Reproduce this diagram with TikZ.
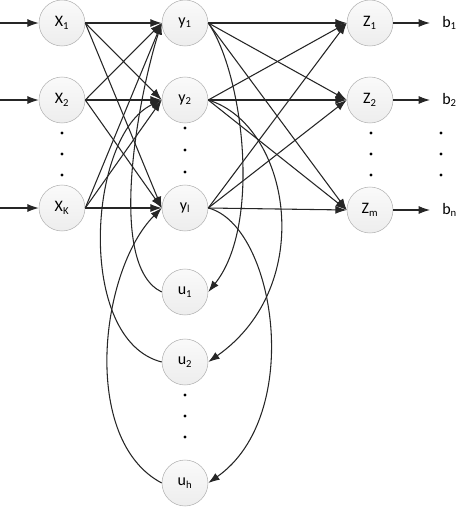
\documentclass[tikz,border=0pt]{standalone}
\usepackage{fontspec}
\setmainfont{Carlito}
\usetikzlibrary{arrows.meta}

\begin{document}
\begin{tikzpicture}[x=0.75pt, y=-0.75pt,
	neuron/.style={circle, draw=gray!60, top color=gray!4, bottom color=gray!14, minimum size=34.5pt, inner sep=0pt, font=\fontsize{12}{14}\selectfont},
	outlabel/.style={anchor=west, inner xsep=9pt, inner ysep=0pt, font=\fontsize{12}{14}\selectfont},
	conn/.style={draw=black!85, line width=0.8pt, -{Latex[length=8.5pt, width=6pt]}}]

	\useasboundingbox (0,0) rectangle (455,507);

	% input layer
	\node[neuron] (x1) at (62,23) {X\textsubscript{1}};
	\node[neuron] (x2) at (62,100) {X\textsubscript{2}};
	\node[neuron] (xk) at (62,208) {X\textsubscript{K}};

	% hidden layer
	\node[neuron] (y1) at (185,23) {y\textsubscript{1}};
	\node[neuron] (y2) at (185,100) {y\textsubscript{2}};
	\node[neuron] (yl) at (185,208) {y\textsubscript{l}};

	% output layer
	\node[neuron] (z1) at (370,23) {Z\textsubscript{1}};
	\node[neuron] (z2) at (370,100) {Z\textsubscript{2}};
	\node[neuron] (zm) at (370,210) {Z\textsubscript{m}};

	% context units
	\node[neuron] (u1) at (185,292) {u\textsubscript{1}};
	\node[neuron] (u2) at (185,362) {u\textsubscript{2}};
	\node[neuron] (uh) at (185,483) {u\textsubscript{h}};

	\node[outlabel] (b1) at (430,23) {b\textsubscript{1}};
	\node[outlabel] (b2) at (430,100) {b\textsubscript{2}};
	\node[outlabel] (bn) at (430,210) {b\textsubscript{n}};

	\coordinate (in1) at (0,23);
	\coordinate (in2) at (0,100);
	\coordinate (ink) at (0,208);

	% dots
	\foreach \cx in {62,371,441}
		\foreach \cy in {133,154,175}
			\fill (\cx,\cy) circle (1.2pt);
	\foreach \cy in {128,150,172,395,416,437}
		\fill (185,\cy) circle (1.2pt);

	\draw[conn] (in1) -- (x1.west);
	\draw[conn] (in2) -- (x2.west);
	\draw[conn] (ink) -- (xk.west);

	\foreach \a in {x1,x2,xk}
		\foreach \b in {y1,y2,yl}
			\draw[conn] (\a.east) -- (\b.west);

	\foreach \a in {y1,y2,yl}
		\foreach \b in {z1,z2,zm}
			\draw[conn] (\a.east) -- (\b.west);

	\draw[conn] (z1.east) -- (b1.west);
	\draw[conn] (z2.east) -- (b2.west);
	\draw[conn] (zm.east) -- (bn.west);

	% feedback to context units
	\draw[conn] (y1.east) .. controls (243,73) and (262,225) .. (u1.east);
	\draw[conn] (y2.east) .. controls (290,125) and (318,285) .. (u2.east);
	\draw[conn] (yl.east) .. controls (275,225) and (305,415) .. (uh.east);

	\draw[conn] (u1.west) .. controls (105,265) and (140,90) .. (y1.west);
	\draw[conn] (u2.west) .. controls (75,340) and (88,135) .. (y2.west);
	\draw[conn] (uh.west) .. controls (80,440) and (100,270) .. (yl.west);
\end{tikzpicture}
\end{document}
